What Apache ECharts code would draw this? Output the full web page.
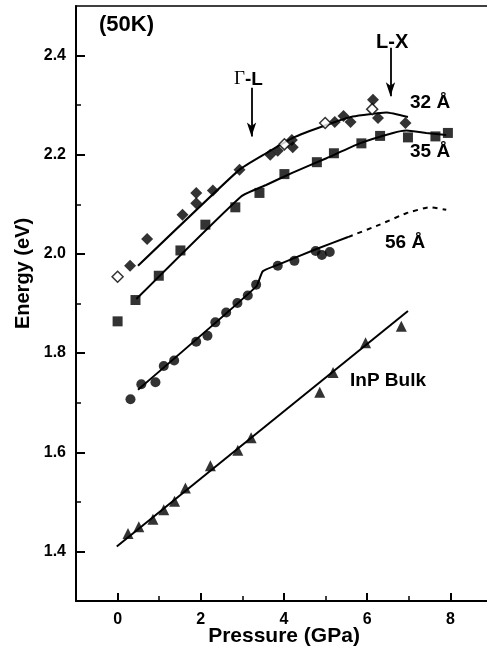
<!DOCTYPE html>
<html>
<head>
<meta charset="utf-8">
<script src="https://cdn.jsdelivr.net/npm/echarts@6/dist/echarts.min.js"></script>
<style>html,body{margin:0;padding:0;background:#fff;}#c{width:487px;height:647px;}</style>
</head>
<body>
<div id="c"></div>
<script>
// ---- data ----
var xMajorTicks = [0, 2, 4, 6, 8];
var xMinorTicks = [1, 3, 5, 7];
var yMajorTicks = [1.4, 1.6, 1.8, 2.0, 2.2, 2.4];
var yMinorTicks = [1.5, 1.7, 1.9, 2.1, 2.3];

var qw32Filled = [[0.30,1.976],[0.71,2.030],[1.56,2.079],[1.89,2.123],[1.89,2.102],[2.29,2.128],[2.93,2.170],[3.67,2.200],[3.85,2.208],[4.19,2.230],[4.21,2.215],[5.22,2.266],[5.43,2.278],[5.60,2.266],[6.14,2.311],[6.26,2.274],[6.92,2.264]];
var qw32Open = [[0.00,1.954],[4.01,2.221],[4.99,2.264],[6.12,2.292]];
var qw32Fit = [[0.49,1.976],[2.93,2.170],[3.57,2.203],[4.21,2.234],[5.02,2.260],[5.65,2.277],[6.46,2.285],[6.98,2.276]];

var qw35 = [[0.00,1.864],[0.43,1.907],[0.99,1.956],[1.51,2.007],[2.11,2.059],[2.83,2.094],[3.41,2.123],[4.01,2.161],[4.79,2.185],[5.20,2.203],[5.86,2.223],[6.31,2.238],[6.98,2.235],[7.64,2.237],[7.94,2.244]];
var qw35Fit = [[0.45,1.909],[2.97,2.116],[3.57,2.139],[4.21,2.164],[5.02,2.193],[5.82,2.223],[6.62,2.244],[6.94,2.249],[7.42,2.244],[7.90,2.240]];

var qw56 = [[0.31,1.707],[0.57,1.737],[0.91,1.741],[1.11,1.774],[1.36,1.785],[1.89,1.823],[2.16,1.835],[2.35,1.862],[2.61,1.882],[2.88,1.901],[3.13,1.916],[3.33,1.938],[3.85,1.976],[4.25,1.986],[4.76,2.006],[4.91,1.998],[5.10,2.004]];
var qw56Fit = [[0.49,1.726],[3.33,1.934],[3.49,1.965],[3.85,1.978],[4.78,2.010],[5.54,2.034]];
var qw56Extrap = [[5.54,2.034],[6.30,2.059],[6.94,2.082],[7.50,2.094],[7.90,2.089]];

var inpBulk = [[0.25,1.436],[0.51,1.450],[0.85,1.465],[1.11,1.484],[1.37,1.501],[1.63,1.528],[2.23,1.573],[2.89,1.604],[3.21,1.629],[4.86,1.721],[5.18,1.761],[5.96,1.821],[6.82,1.854]];
var inpFit = [[-0.02,1.410],[6.98,1.885]];

var arrowGL = [[3.22,2.335],[3.22,2.237]];
var arrowLX = [[6.56,2.416],[6.56,2.318]];

// ---- chart ----
var FONT = '"Liberation Sans", Arial, sans-serif';
var chart = echarts.init(document.getElementById('c'), null, {renderer:'canvas'});

function lineSeries(data, dashed) {
  return {type:'line', data:data, symbol:'none', smooth:0.15, silent:true,
    lineStyle:{color:'#000', width:2, type: dashed ? [5,5] : 'solid'}, z:2};
}
function scatter(data, symbol, size, open) {
  return {type:'scatter', data:data, symbol:symbol, symbolSize:size, silent:true,
    itemStyle:{color: open ? '#fff' : '#000', borderColor:'#000', borderWidth: open ? 1.5 : 0}, z:3};
}

var inpFitSeries = lineSeries(inpFit, false);
inpFitSeries.smooth = false;
inpFitSeries.markLine = {
  silent:true, symbol:['none','arrow'], symbolSize:[7,14], animation:false,
  label:{show:false},
  lineStyle:{color:'#000', width:1.8, type:'solid'},
  data:[
    [{coord:arrowGL[0]},{coord:arrowGL[1]}],
    [{coord:arrowLX[0]},{coord:arrowLX[1]}]
  ]
};

var option = {
  animation:false,
  backgroundColor:'#fff',
  grid:{left:76, right:-5, top:6, bottom:46, containLabel:false, outerBoundsMode:'none',
    show:true, borderColor:'#000', borderWidth:1.5, backgroundColor:'transparent'},
  xAxis:[{
    type:'value', min:-1, max:9, position:'bottom',
    name:'Pressure (GPa)', nameLocation:'middle', nameGap:25, nameMoveOverlap:false,
    nameTextStyle:{fontFamily:FONT, fontWeight:'bold', fontSize:21, color:'#000'},
    axisLine:{show:true, onZero:false, lineStyle:{color:'#000', width:2}},
    axisTick:{show:true, inside:true, length:8, customValues:xMajorTicks, lineStyle:{color:'#000', width:2}},
    axisLabel:{show:true, customValues:xMajorTicks, margin:11, fontFamily:FONT, fontWeight:'bold', fontSize:16, color:'#000'},
    splitLine:{show:false}
  },{
    type:'value', min:-1, max:9, position:'bottom', gridIndex:0,
    axisLine:{show:false, onZero:false},
    axisTick:{show:true, inside:true, length:5, customValues:xMinorTicks, lineStyle:{color:'#000', width:1.5}},
    axisLabel:{show:false},
    splitLine:{show:false}
  }],
  yAxis:[{
    type:'value', min:1.3, max:2.5, position:'left',
    name:'Energy (eV)', nameLocation:'middle', nameGap:43, nameMoveOverlap:false,
    nameTextStyle:{fontFamily:FONT, fontWeight:'bold', fontSize:20, color:'#000', padding:[0,0,0,60]},
    axisLine:{show:true, onZero:false, lineStyle:{color:'#000', width:2}},
    axisTick:{show:true, inside:true, length:9, customValues:yMajorTicks, lineStyle:{color:'#000', width:2}},
    axisLabel:{show:true, customValues:yMajorTicks, margin:10, fontFamily:FONT, fontWeight:'bold', fontSize:16, color:'#000',
      formatter:function(v){return v.toFixed(1);}},
    splitLine:{show:false}
  },{
    type:'value', min:1.3, max:2.5, position:'left', gridIndex:0,
    axisLine:{show:false, onZero:false},
    axisTick:{show:true, inside:true, length:5, customValues:yMinorTicks, lineStyle:{color:'#000', width:1.5}},
    axisLabel:{show:false},
    splitLine:{show:false}
  }],
  series:[
    lineSeries(qw32Fit, false),
    lineSeries(qw35Fit, false),
    lineSeries(qw56Fit, false),
    lineSeries(qw56Extrap, true),
    inpFitSeries,
    scatter(qw32Filled, 'diamond', 12, false),
    scatter(qw32Open, 'diamond', 11, true),
    scatter(qw35, 'rect', 10, false),
    scatter(qw56, 'circle', 10, false),
    scatter(inpBulk, 'triangle', 11, false)
  ],
  graphic:[
    {type:'text', left:99, top:14, style:{text:'(50K)', fontFamily:FONT, fontWeight:'bold', fontSize:22, fill:'#000'}},
    {type:'text', left:234, top:70, style:{
      text:'{g|Γ}{s|-L}', rich:{g:{fontFamily:'"Liberation Serif", "Times New Roman", serif', fontSize:19, fill:'#000'}, s:{fontFamily:FONT, fontWeight:'bold', fontSize:19, fill:'#000'}}}},
    {type:'text', left:376, top:32, style:{text:'L-X', fontFamily:FONT, fontWeight:'bold', fontSize:20, fill:'#000'}},
    {type:'text', left:410, top:93, style:{text:'32 Å', fontFamily:FONT, fontWeight:'bold', fontSize:19, fill:'#000'}},
    {type:'text', left:410, top:142, style:{text:'35 Å', fontFamily:FONT, fontWeight:'bold', fontSize:19, fill:'#000'}},
    {type:'text', left:385, top:233, style:{text:'56 Å', fontFamily:FONT, fontWeight:'bold', fontSize:19, fill:'#000'}},
    {type:'text', left:350, top:371, style:{text:'InP Bulk', fontFamily:FONT, fontWeight:'bold', fontSize:19, fill:'#000'}}
  ]
};
chart.setOption(option);
</script>
</body>
</html>
